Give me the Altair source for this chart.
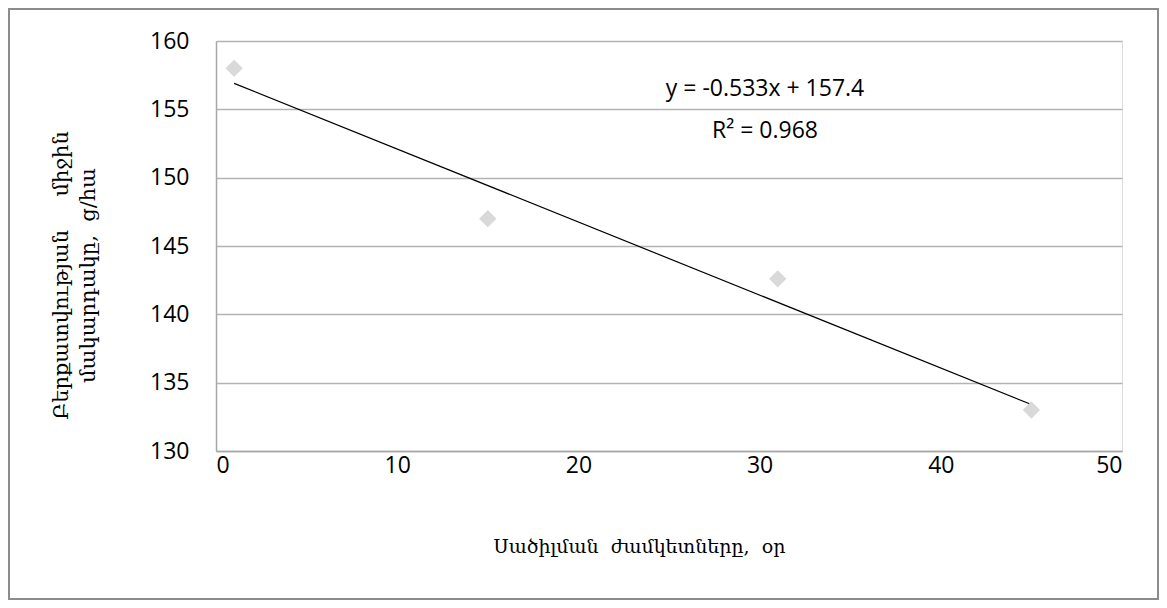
import altair as alt
import pandas as pd

days = [1, 15, 31, 45]
yield_vals = [158.0, 147.0, 142.6, 133.0]

eq_text = ["y = -0.533x + 157.4", "R\u00b2 = 0.968"]
eq_x = [30.3, 30.3]
eq_y = [156.5, 153.4]

NB = "\u00a0"
x_title = "Սածիլման" + NB * 2 + "ժամկետները," + NB * 2 + "օր"
y_title = ["Բերքատվության" + NB * 5 + "միջին", "մակարդակը," + NB * 2 + "ց/հա"]

df = pd.DataFrame({"x": days, "y": yield_vals})
df_eq = pd.DataFrame({"t": eq_text, "x": eq_x, "y": eq_y})

W, H = 906, 410

xs = alt.Scale(domain=[0, 50], nice=False)
ys = alt.Scale(domain=[130, 160], nice=False, zero=False)

xaxis = alt.Axis(values=[0, 10, 20, 30, 40, 50], grid=False, ticks=False,
                 domainColor="#a6a6a6", domainWidth=1.5,
                 labelFont="Open Sans", labelFontSize=23, labelColor="#000",
                 labelPadding=3,
                 title=x_title, titleFont="DejaVu Serif", titleFontSize=19,
                 titleFontWeight="normal", titleColor="#000", titlePadding=60,
                 titleX=423)
yaxis = alt.Axis(values=[130, 135, 140, 145, 150, 155, 160], grid=True,
                 gridColor="#b3b3b3", gridWidth=1.5, ticks=False,
                 domainColor="#a6a6a6", domainWidth=1.5,
                 labelFont="Open Sans", labelFontSize=23, labelColor="#000",
                 labelPadding=27,
                 title=y_title, titleFont="DejaVu Serif", titleFontSize=21,
                 titleFontWeight="normal", titleColor="#000", titlePadding=51,
                 titleLineHeight=27, titleY=234)

base = alt.Chart(df)

points = base.mark_point(shape="diamond", filled=True, color="#d9d9d9",
                         opacity=1, size=300).encode(
    x=alt.X("x:Q", scale=xs, axis=xaxis),
    y=alt.Y("y:Q", scale=ys, axis=yaxis),
)

trend = base.transform_regression("x", "y", method="linear").mark_line(
    color="#000", strokeWidth=1.2).encode(
    x=alt.X("x:Q", scale=xs),
    y=alt.Y("y:Q", scale=ys),
)

eq = alt.Chart(df_eq).mark_text(font="Open Sans", fontSize=23, color="#000",
                                align="center", baseline="middle").encode(
    x=alt.X("x:Q", scale=xs),
    y=alt.Y("y:Q", scale=ys),
    text="t:N",
)

frame = alt.Chart(df).mark_rect(fill=None, stroke="#8c8c8c", strokeWidth=2).encode(
    x=alt.value(-207), x2=alt.value(W + 36),
    y=alt.value(-32), y2=alt.value(H + 148),
)

chart = alt.layer(frame, trend, points, eq).properties(
    width=W, height=H,
    autosize=alt.AutoSizeParams(type="none"),
    padding={"left": 208, "top": 33, "right": 37, "bottom": 149},
).configure_view(stroke=None).configure(background="white")

chart.save("out.html", embed_options={"renderer": "svg", "actions": False})
